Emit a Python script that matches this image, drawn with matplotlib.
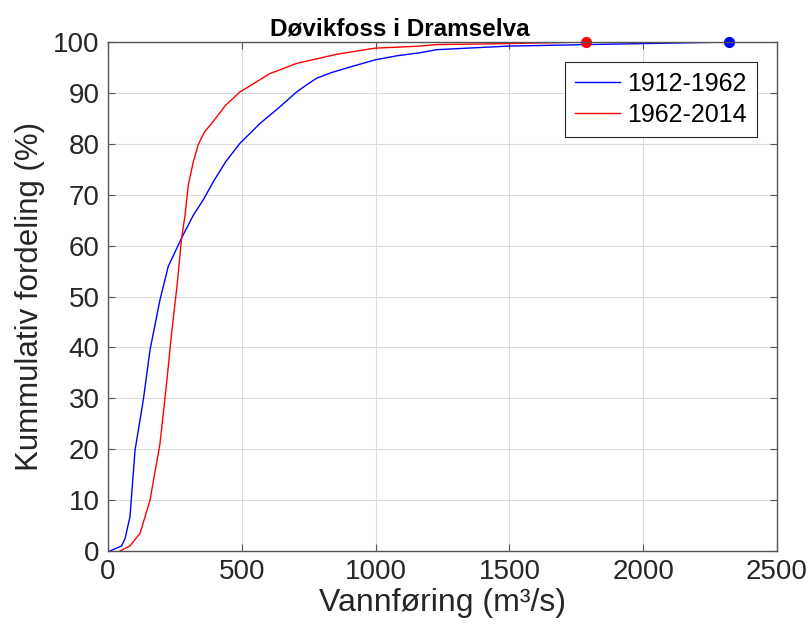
import matplotlib
matplotlib.use("Agg")
import matplotlib.pyplot as plt
import numpy as np

plt.rcParams['font.family'] = ['Liberation Sans', 'DejaVu Sans']

# discharge (m3/s) vs cumulative share (%)
q_old = [7, 51, 64, 82, 101, 132, 157, 194, 225, 275, 319, 356, 394, 440, 493, 568,
         643, 705, 745, 780, 835, 892, 998, 1080, 1166, 1228, 1495, 1790, 2000, 2320]
p_old = [0, 1, 2.5, 6.7, 19.8, 29.7, 39.5, 49.3, 55.9, 61.5, 66, 69, 72.6, 76.5, 80.1, 84,
         87.3, 90.2, 91.7, 92.9, 94.0, 94.9, 96.5, 97.3, 97.9, 98.5, 99.2, 99.5, 99.7, 100]

q_new = [45, 82, 120, 157, 194, 219, 238, 259, 275, 288, 300, 318, 337, 360, 387, 440,
         493, 605, 705, 855, 998, 1166, 1228, 1495, 1785]
p_new = [0, 1, 3.5, 10, 21, 33, 43, 52.6, 61.5, 66, 71.9, 76.3, 79.8, 82.3, 84, 87.6,
         90.2, 93.8, 95.8, 97.6, 98.8, 99.2, 99.5, 99.7, 100]

labels = ['1912-1962', '1962-2014']
title = 'Døvikfoss i Dramselva'

fig = plt.figure(figsize=(8.09, 6.37), dpi=100)
ax = fig.add_axes([0.1335, 0.135, 0.827, 0.799])

ax.plot(q_old, p_old, color='#0000ff', lw=1.0, label=labels[0])
ax.plot(q_new, p_new, color='#ff0000', lw=1.0, label=labels[1])
ax.plot(q_old[-1], p_old[-1], 'o', color='#0000ff', ms=7, clip_on=False)
ax.plot(q_new[-1], p_new[-1], 'o', color='#ff0000', ms=7, clip_on=False)

ax.set_xlim(0, 2500)
ax.set_ylim(0, 100)
ax.set_xticks(np.arange(0, 2501, 500))
ax.set_yticks(np.arange(0, 101, 10))
ax.grid(True, color='#dcdcdc', lw=0.8)
ax.set_axisbelow(True)
for s in ax.spines.values():
    s.set_color('#555555')
    s.set_linewidth(1.0)
ax.tick_params(direction='in', top=True, right=True, length=5, width=0.8,
               color='#555555', labelsize=20, labelcolor='#262626', pad=6)

ax.set_xlabel('Vannføring (m³/s)', fontsize=23, color='#262626', labelpad=2)
ax.set_ylabel('Kummulativ fordeling (%)', fontsize=22.5, color='#262626', labelpad=6)
ax.set_title(title, fontsize=17.5, fontweight='bold', pad=5, x=0.436)

leg = ax.legend(loc='upper right', fontsize=18, fancybox=False, edgecolor='#262626',
                framealpha=1, handlelength=1.8, borderaxespad=0.8, labelspacing=0.28,
                handletextpad=0.3, borderpad=0.4)
leg.get_frame().set_linewidth(0.8)

fig.savefig('out.png', dpi=100)
